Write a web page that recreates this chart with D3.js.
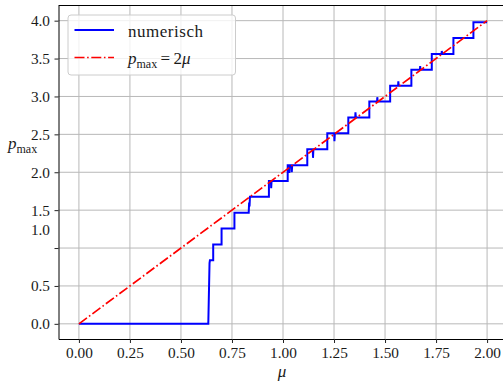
<!DOCTYPE html>
<html>
<head>
<meta charset="utf-8">
<script src="https://cdn.jsdelivr.net/npm/d3@7"></script>
<style>
  html, body { margin: 0; padding: 0; background: #fff; }
  svg { display: block; }
</style>
</head>
<body>
<svg id="chart" width="503" height="386" font-family="Liberation Serif"></svg>
<script>
// Tick positions and labels
const xTicks = [0, 0.25, 0.5, 0.75, 1.0, 1.25, 1.5, 1.75, 2.0];
const xTickLabels = ["0.00", "0.25", "0.50", "0.75", "1.00", "1.25", "1.50", "1.75", "2.00"];
const yTicks = [0, 0.5, 1.0, 1.5, 2.0, 2.5, 3.0, 3.5, 4.0];
const yTickLabels = ["0.0", "0.5", "", "1.5", "2.0", "2.5", "3.0", "3.5", "4.0"];

// Numerical solution: vertices of the stepwise curve (mu, p_max)
const numerischMu = [
  0, 0.634, 0.640, 0.642, 0.658, 0.658, 0.699, 0.699, 0.762, 0.762,
  0.832, 0.834, 0.836, 0.838, 0.931, 0.931, 0.941, 0.942, 0.944,
  1.023, 1.023, 1.030, 1.031, 1.033, 1.042, 1.043, 1.045,
  1.119, 1.119, 1.146, 1.147, 1.149,
  1.217, 1.217, 1.251, 1.252, 1.254,
  1.320, 1.320, 1.354, 1.355, 1.357,
  1.423, 1.423, 1.461, 1.462, 1.464,
  1.525, 1.525, 1.564, 1.565, 1.567,
  1.629, 1.629, 1.671, 1.672, 1.674,
  1.729, 1.729, 1.777, 1.778, 1.780,
  1.835, 1.835, 1.933, 1.933, 2.0
];
const numerischP = [
  0, 0, 0.80, 0.838, 0.838, 1.047, 1.047, 1.257, 1.257, 1.466,
  1.466, 1.60, 1.55, 1.676, 1.676, 1.885, 1.885, 1.79, 1.885,
  1.885, 2.094, 2.094, 1.99, 2.094, 2.094, 2.00, 2.094,
  2.094, 2.304, 2.304, 2.19, 2.304,
  2.304, 2.513, 2.513, 2.41, 2.513,
  2.513, 2.723, 2.723, 2.79, 2.723,
  2.723, 2.932, 2.932, 2.99, 2.932,
  2.932, 3.142, 3.142, 3.20, 3.142,
  3.142, 3.351, 3.351, 3.40, 3.351,
  3.351, 3.561, 3.561, 3.60, 3.561,
  3.561, 3.770, 3.770, 3.979, 3.979
];

// Analytic bound p_max = 2 mu
const boundMu = [0, 2];
const boundP = [0, 4];

const serif = "Liberation Serif";
const svg = d3.select("#chart");
const textColor = "#1a1a1a";

const x = d3.scaleLinear().domain([-0.1, 2.1]).range([58.5, 507.5]);
const y = d3.scaleLinear().domain([-0.2, 4.2]).range([339, 5.5]);

const plotLeft = x.range()[0], plotRight = x.range()[1];
const plotTop = y.range()[1], plotBottom = y.range()[0];

svg.append("defs").append("clipPath").attr("id", "plotArea")
  .append("rect").attr("x", plotLeft).attr("y", plotTop)
  .attr("width", plotRight - plotLeft).attr("height", plotBottom - plotTop);

// Grid
const grid = svg.append("g").attr("stroke", "#b8b8b8").attr("stroke-width", 1);
grid.selectAll("line.gx").data(xTicks).join("line").attr("class", "gx")
  .attr("x1", d => x(d)).attr("x2", d => x(d))
  .attr("y1", plotTop).attr("y2", plotBottom);
grid.selectAll("line.gy").data(yTicks).join("line").attr("class", "gy")
  .attr("x1", plotLeft).attr("x2", plotRight)
  .attr("y1", d => y(d)).attr("y2", d => y(d));

const plot = svg.append("g").attr("clip-path", "url(#plotArea)");

const line = d3.line().x(d => x(d[0])).y(d => y(d[1]));

plot.append("path")
  .datum(numerischMu.map((m, i) => [m, numerischP[i]]))
  .attr("d", line)
  .attr("fill", "none")
  .attr("stroke", "#0000ff")
  .attr("stroke-width", 2)
  .attr("stroke-linejoin", "miter");

const dashDot = "10,2.6,1.6,2.6";
plot.append("path")
  .datum(boundMu.map((m, i) => [m, boundP[i]]))
  .attr("d", line)
  .attr("fill", "none")
  .attr("stroke", "#ff0000")
  .attr("stroke-width", 1.7)
  .attr("stroke-dasharray", dashDot);

// Axes
const xAxis = svg.append("g").attr("transform", `translate(0,${plotBottom})`)
  .call(d3.axisBottom(x).tickValues(xTicks)
    .tickFormat((d, i) => xTickLabels[i]).tickSize(4).tickSizeOuter(0).tickPadding(4.5));
const yAxis = svg.append("g").attr("transform", `translate(${plotLeft},0)`)
  .call(d3.axisLeft(y).tickValues(yTicks)
    .tickFormat((d, i) => yTickLabels[i]).tickSize(4).tickSizeOuter(0).tickPadding(4.5));

[xAxis, yAxis].forEach(a => {
  a.attr("font-family", serif).attr("font-size", 15.3);
  a.selectAll("text").attr("fill", textColor)
    .attr("font-family", serif).attr("font-size", 15.3);
  a.selectAll(".tick line").attr("stroke", "#222").attr("stroke-width", 1);
  a.select(".domain").attr("stroke", "#000").attr("stroke-width", 1);
});

// Loose "1.0" label sitting between the 1.0 and 1.5 ticks
const looseLabelValue = 1.24;
svg.append("text")
  .attr("x", plotLeft - 8.5).attr("y", y(looseLabelValue))
  .attr("dy", "0.32em").attr("text-anchor", "end")
  .attr("fill", textColor).attr("font-family", serif).attr("font-size", 15.3)
  .text("1.0");

// Top spine
svg.append("line").attr("x1", plotLeft).attr("x2", plotRight)
  .attr("y1", plotTop).attr("y2", plotTop).attr("stroke", "#000").attr("stroke-width", 1);

// Axis labels
const yl = svg.append("text").attr("x", 8).attr("y", 149)
  .attr("fill", textColor).attr("font-family", serif).attr("font-size", 17);
yl.append("tspan").attr("font-style", "italic").text("p");
yl.append("tspan").attr("dy", 3.5).attr("font-size", 12).text("max");

svg.append("text").attr("x", 282).attr("y", 377)
  .attr("text-anchor", "middle").attr("fill", textColor).attr("font-family", serif)
  .attr("font-size", 17).attr("font-style", "italic").text("μ");

// Legend
const legend = svg.append("g");
legend.append("rect")
  .attr("x", 68).attr("y", 15).attr("width", 167.5).attr("height", 60).attr("rx", 3)
  .attr("fill", "#fff").attr("fill-opacity", 0.8)
  .attr("stroke", "#cccccc").attr("stroke-width", 1);

legend.append("line").attr("x1", 74.5).attr("x2", 114).attr("y1", 30).attr("y2", 30)
  .attr("stroke", "#0000ff").attr("stroke-width", 2);
legend.append("line").attr("x1", 74.5).attr("x2", 114).attr("y1", 57.5).attr("y2", 57.5)
  .attr("stroke", "#ff0000").attr("stroke-width", 1.7).attr("stroke-dasharray", dashDot);

legend.append("text").attr("x", 128).attr("y", 36.5)
  .attr("fill", textColor).attr("font-family", serif).attr("font-size", 17)
  .attr("textLength", 75).attr("lengthAdjust", "spacing")
  .text("numerisch");

const l2 = legend.append("text").attr("x", 128).attr("y", 64)
  .attr("fill", textColor).attr("font-family", serif).attr("font-size", 17);
l2.append("tspan").attr("font-style", "italic").text("p");
l2.append("tspan").attr("dy", 3.5).attr("font-size", 12).text("max");
l2.append("tspan").attr("dy", -3.5).text("\u2009=\u20092");
l2.append("tspan").attr("font-style", "italic").text("μ");
</script>
</body>
</html>
